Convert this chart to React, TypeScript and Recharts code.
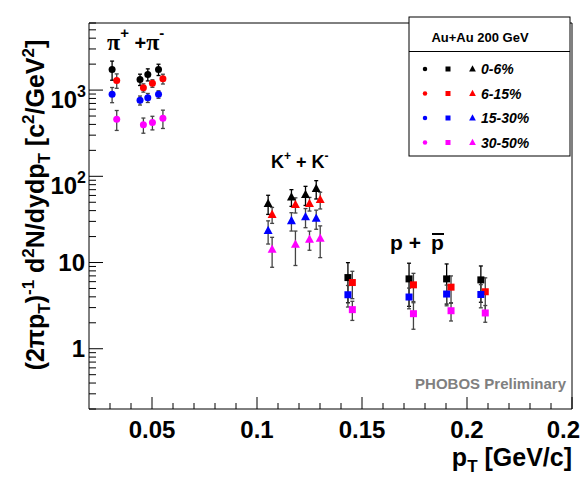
import { ScatterChart, Scatter, XAxis, YAxis, ErrorBar, ReferenceArea } from "recharts";

const centralities = ["0-6%", "6-15%", "15-30%", "30-50%"];
const colors = ["#000000", "#ff0000", "#0000ff", "#ff00ff"];

// p_T bins: 0-6% and 15-30% sit on the left position, 6-15% and 30-50% nudged right
const pionPtL = [0.031, 0.0443, 0.048, 0.0531];
const pionPtR = [0.0332, 0.0459, 0.0502, 0.0552];
const kaonPtL = [0.1053, 0.1164, 0.1231, 0.1282];
const kaonPtR = [0.1072, 0.1183, 0.125, 0.1301];
const protonPtL = [0.1433, 0.1724, 0.1903, 0.2066];
const protonPtR = [0.1454, 0.1745, 0.1924, 0.2087];

// yields, per centrality
const pion0to6 = [1735, 1330, 1520, 1735];
const pion6to15 = [1295, 1064, 1197, 1352];
const pion15to30 = [893, 762, 816, 893];
const pion30to50 = [460, 395, 421, 472];

const kaon0to6 = [48.2, 57.4, 61.2, 71.8];
const kaon6to15 = [36.0, 46.9, 48.2, 53.6];
const kaon15to30 = [23.4, 30.5, 33.8, 32.4];
const kaon30to50 = [14.2, 16.2, 18.5, 19.0];

const proton0to6 = [6.69, 6.46, 6.46, 6.29];
const proton6to15 = [5.86, 5.51, 5.18, 4.58];
const proton15to30 = [4.23, 3.98, 4.31, 4.26];
const proton30to50 = [2.84, 2.55, 2.76, 2.6];

// relative errors (fraction of the value)
const pionErr0to6 = [0.25, 0.15, 0.16, 0.15];
const pionErr6to15 = [0.19, 0.11, 0.1, 0.13];
const pionErr15to30 = [0.2, 0.12, 0.12, 0.1];
const pionErr30to50 = [0.26, 0.2, 0.18, 0.24];

const kaonErr0to6 = [0.25, 0.22, 0.25, 0.24];
const kaonErr6to15 = [0.21, 0.2, 0.18, 0.22];
const kaonErr15to30 = [0.3, 0.24, 0.25, 0.25];
const kaonErr30to50 = [0.38, 0.43, 0.25, 0.4];

const protonErr0to6 = [0.49, 0.52, 0.49, 0.45];
const protonErr6to15 = [0.35, 0.36, 0.35, 0.45];
const protonErr15to30 = [0.28, 0.27, 0.27, 0.3];
const protonErr30to50 = [0.25, 0.34, 0.24, 0.22];

const xTicks = [
  0.03, 0.04, 0.05, 0.06, 0.07, 0.08, 0.09, 0.1, 0.11, 0.12, 0.13, 0.14, 0.15,
  0.16, 0.17, 0.18, 0.19, 0.2, 0.21, 0.22, 0.23, 0.24, 0.25
];
const xMajorTicks = [0.05, 0.1, 0.15, 0.2, 0.25];
const xMajorLabels = ["0.05", "0.1", "0.15", "0.2", "0.2"];

const yTicks = [
  0.2, 0.3, 0.4, 0.5, 0.6, 0.7, 0.8, 0.9, 1, 2, 3, 4, 5, 6, 7, 8, 9, 10, 20, 30,
  40, 50, 60, 70, 80, 90, 100, 200, 300, 400, 500, 600, 700, 800, 900, 1000,
  2000, 3000, 4000, 5000, 6000
];
const yMajorTicks = [1, 10, 100, 1000];
const yMajorLabels = ["1", "10", "10^2", "10^3"];

const W = 585;
const H = 478;
const PLOT_LEFT = 89;
const PLOT_TOP = 23;
const PLOT_RIGHT = 572;
const PLOT_BOTTOM = 409;
const YAXIS_W = 70;
const XAXIS_H = 40;

const species = [
  {
    key: "pion",
    shape: "circle",
    ptL: pionPtL,
    ptR: pionPtR,
    vals: [pion0to6, pion6to15, pion15to30, pion30to50],
    errs: [pionErr0to6, pionErr6to15, pionErr15to30, pionErr30to50]
  },
  {
    key: "kaon",
    shape: "triangle",
    ptL: kaonPtL,
    ptR: kaonPtR,
    vals: [kaon0to6, kaon6to15, kaon15to30, kaon30to50],
    errs: [kaonErr0to6, kaonErr6to15, kaonErr15to30, kaonErr30to50]
  },
  {
    key: "proton",
    shape: "square",
    ptL: protonPtL,
    ptR: protonPtR,
    vals: [proton0to6, proton6to15, proton15to30, proton30to50],
    errs: [protonErr0to6, protonErr6to15, protonErr15to30, protonErr30to50]
  }
];

const series = species.flatMap((s) =>
  centralities.map((c, ci) => {
    const pts = ci % 2 === 0 ? s.ptL : s.ptR;
    return {
      id: `${s.key}-${c}`,
      shape: s.shape,
      color: colors[ci],
      data: s.vals[ci].map((v, i) => ({ pt: pts[i], v, err: v * s.errs[ci][i] }))
    };
  })
);

function drawMarker(kind: string, color: string, cx: number, cy: number, s: number) {
  if (kind === "circle") return <circle cx={cx} cy={cy} r={s * 0.5} fill={color} />;
  if (kind === "square")
    return <rect x={cx - s / 2} y={cy - s / 2} width={s} height={s} fill={color} />;
  return (
    <polygon
      points={`${cx},${cy - s * 0.62} ${cx - s * 0.56},${cy + s * 0.42} ${cx + s * 0.56},${cy + s * 0.42}`}
      fill={color}
    />
  );
}

function markerShape(kind: string, color: string) {
  const size = kind === "circle" ? 7 : kind === "square" ? 7 : 8;
  return (p: any) => drawMarker(kind, color, p.cx, p.cy, size);
}

function XTick(props: any) {
  const { x, payload } = props;
  const idx = xMajorTicks.indexOf(payload.value);
  const len = idx >= 0 ? 12 : 6;
  // the last label would run off the page, so it is pulled in to end near the edge
  const last = idx === xMajorTicks.length - 1;
  return (
    <g>
      <line x1={x} x2={x} y1={PLOT_BOTTOM} y2={PLOT_BOTTOM - len} stroke="#000" />
      {idx >= 0 && (
        <text
          x={last ? W - 5 : x}
          y={PLOT_BOTTOM + 29}
          textAnchor={last ? "end" : "middle"}
          fontSize={24}
          fontWeight="bold"
        >
          {xMajorLabels[idx]}
        </text>
      )}
    </g>
  );
}

function YTick(props: any) {
  const { y, payload } = props;
  const idx = yMajorTicks.indexOf(payload.value);
  const len = idx >= 0 ? 14 : 7;
  let label = null;
  if (idx >= 0) {
    const [base, exp] = yMajorLabels[idx].split("^");
    label = exp ? (
      <text x={PLOT_LEFT - 3} y={y + 18} textAnchor="end" fontSize={24} fontWeight="bold">
        {base}
        <tspan dy={-11} fontSize={16}>
          {exp}
        </tspan>
      </text>
    ) : (
      <text x={PLOT_LEFT - 4} y={y + 8} textAnchor="end" fontSize={24} fontWeight="bold">
        {base}
      </text>
    );
  }
  return (
    <g>
      <line x1={PLOT_LEFT} x2={PLOT_LEFT + len} y1={y} y2={y} stroke="#000" />
      {label}
    </g>
  );
}

const legendRows = [69, 93.5, 118, 142.5];

export default function App() {
  return (
    <div
      style={{
        position: "absolute",
        left: 0,
        top: 0,
        width: W,
        height: H,
        background: "#fff",
        fontFamily: "'Liberation Sans', Arial, Helvetica, sans-serif"
      }}
    >
      <ScatterChart
        width={W}
        height={H}
        margin={{
          top: PLOT_TOP,
          right: W - PLOT_RIGHT,
          left: PLOT_LEFT - YAXIS_W,
          bottom: H - PLOT_BOTTOM - XAXIS_H
        }}
      >
        <XAxis
          type="number"
          dataKey="pt"
          domain={[0.02, 0.25]}
          ticks={xTicks}
          interval={0}
          tick={<XTick />}
          tickLine={false}
          axisLine={false}
          height={XAXIS_H}
          allowDataOverflow
        />
        <YAxis
          type="number"
          dataKey="v"
          scale="log"
          domain={[0.2, 6000]}
          ticks={yTicks}
          interval={0}
          tick={<YTick />}
          tickLine={false}
          axisLine={false}
          width={YAXIS_W}
          allowDataOverflow
        />
        <ReferenceArea
          x1={0.02}
          x2={0.25}
          y1={0.2}
          y2={6000}
          fill="none"
          fillOpacity={0}
          stroke="#000"
          strokeWidth={1}
        />
        {series.map((s) => (
          <Scatter
            key={s.id}
            data={s.data}
            dataKey="v"
            shape={markerShape(s.shape, s.color)}
            isAnimationActive={false}
          >
            <ErrorBar
              dataKey="err"
              direction="y"
              width={2}
              stroke={s.color === "#000000" ? "#000" : "#444"}
              strokeWidth={1.3}
            />
          </Scatter>
        ))}
      </ScatterChart>
      <svg
        width={W}
        height={H}
        style={{ position: "absolute", left: 0, top: 0, pointerEvents: "none" }}
      >
        <text
          transform="translate(44, 205) rotate(-90)"
          textAnchor="middle"
          fontSize={25}
          fontWeight="bold"
        >
          (2πp<tspan dy={6} fontSize={17}>T</tspan>
          <tspan dy={-6}>)</tspan>
          <tspan dy={-10} fontSize={17}>-1</tspan>
          <tspan dy={10}> d</tspan>
          <tspan dy={-10} fontSize={17}>2</tspan>
          <tspan dy={10}>N/dydp</tspan>
          <tspan dy={6} fontSize={17}>T</tspan>
          <tspan dy={-6}> [c</tspan>
          <tspan dy={-10} fontSize={17}>2</tspan>
          <tspan dy={10}>/GeV</tspan>
          <tspan dy={-10} fontSize={17}>2</tspan>
          <tspan dy={10}>]</tspan>
        </text>
        <text x={PLOT_RIGHT} y={466} textAnchor="end" fontSize={25} fontWeight="bold">
          p<tspan dy={6} fontSize={17}>T</tspan>
          <tspan dy={-6}> [GeV/c]</tspan>
        </text>

        <text x={107} y={50} fontSize={24} fontWeight="bold">
          <tspan fontFamily="'Liberation Serif', serif">π</tspan>
          <tspan dy={-12} fontSize={15}>+</tspan>
          <tspan dy={12} fontSize={20}> +</tspan>
          <tspan fontFamily="'Liberation Serif', serif">π</tspan>
          <tspan dy={-12} fontSize={15}>-</tspan>
        </text>
        <text x={271} y={168} fontSize={18} fontWeight="bold">
          K<tspan dy={-8} fontSize={12}>+</tspan>
          <tspan dy={8}> + K</tspan>
          <tspan dy={-8} fontSize={12}>-</tspan>
        </text>
        <text x={390} y={250} fontSize={21} fontWeight="bold">
          p +
        </text>
        <text x={431} y={250} fontSize={21} fontWeight="bold">
          p
        </text>
        <line x1={432} x2={444} y1={234} y2={234} stroke="#000" strokeWidth={2} />

        <text
          x={566}
          y={389}
          textAnchor="end"
          fontSize={15}
          fontWeight="bold"
          fill="#808080"
        >
          PHOBOS Preliminary
        </text>

        <rect x={409} y={17} width={161} height={139} fill="#fff" stroke="#000" />
        <line x1={409} x2={570} y1={51.5} y2={51.5} stroke="#000" />
        <text x={480} y={41.5} textAnchor="middle" fontSize={13} fontWeight="bold">
          Au+Au 200 GeV
        </text>
        {centralities.map((c, i) => (
          <g key={c}>
            {drawMarker("circle", colors[i], 425, legendRows[i], 4.5)}
            {drawMarker("square", colors[i], 448, legendRows[i], 5)}
            {drawMarker("triangle", colors[i], 472.5, legendRows[i], 6)}
            <text
              x={481}
              y={legendRows[i] + 5}
              fontSize={14}
              fontWeight="bold"
              fontStyle="italic"
            >
              {c}
            </text>
          </g>
        ))}
      </svg>
    </div>
  );
}
